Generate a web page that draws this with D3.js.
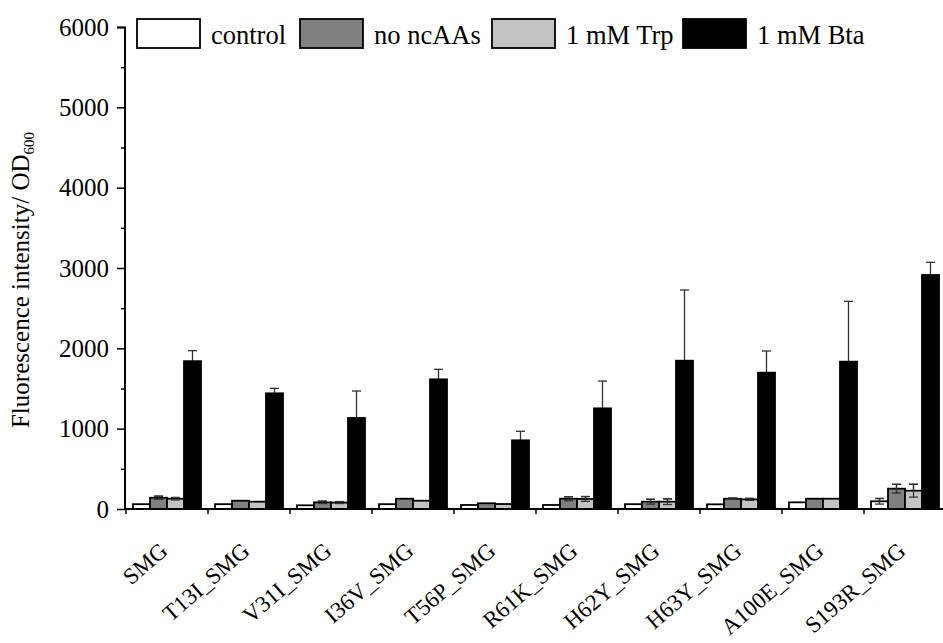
<!DOCTYPE html>
<html>
<head>
<meta charset="utf-8">
<script src="https://cdn.jsdelivr.net/npm/d3@7"></script>
<style>
  body { margin: 0; background: #fff; }
  svg { display: block; }
</style>
</head>
<body>
<div id="chart"></div>
<script>
// data
const categories = ["SMG", "T13I_SMG", "V31I_SMG", "I36V_SMG", "T56P_SMG", "R61K_SMG", "H62Y_SMG", "H63Y_SMG", "A100E_SMG", "S193R_SMG"];
const seriesNames = ["control", "no ncAAs", "1 mM Trp", "1 mM Bta"];
const control = [60, 60, 46, 60, 50, 50, 60, 58, 83, 96];
const controlErr = [0, 0, 0, 0, 0, 0, 0, 0, 0, 35];
const noNcaa = [140, 103, 83, 128, 71, 128, 91, 128, 128, 253];
const noNcaaErr = [20, 0, 15, 0, 0, 25, 30, 8, 0, 54];
const trp = [128, 91, 80, 103, 62, 125, 91, 120, 128, 228];
const trpErr = [15, 0, 12, 0, 0, 30, 35, 12, 0, 80];
const bta = [1840, 1440, 1133, 1614, 855, 1253, 1846, 1697, 1834, 2913];
const btaErr = [131, 62, 336, 125, 112, 340, 880, 270, 751, 158];
const yTicks = [0, 1000, 2000, 3000, 4000, 5000, 6000];

const colors = ["#ffffff", "#808080", "#c3c3c3", "#000000"];
const values = [control, noNcaa, trp, bta];
const errs = [controlErr, noNcaaErr, trpErr, btaErr];

const W = 943, H = 643;
const margin = {top: 27, right: -3, bottom: 134, left: 125};
const width = W - margin.left - margin.right,
      height = H - margin.top - margin.bottom;

const svg = d3.select("#chart").append("svg")
  .attr("width", W).attr("height", H);
const g = svg.append("g")
  .attr("transform", `translate(${margin.left},${margin.top})`);

const serif = "'Liberation Serif', 'DejaVu Serif', serif";

// scales
const x = d3.scaleBand().domain(categories).range([1, width]).padding(0);
const xs = d3.scaleBand().domain(seriesNames).range([7, 75]).padding(0);
const y = d3.scaleLinear().domain([0, 6000]).range([height, 0]);

// flatten into rows
const rows = [];
categories.forEach((c, i) => {
  seriesNames.forEach((s, k) => {
    rows.push({cat: c, s: s, k: k, v: values[k][i], e: errs[k][i]});
  });
});

const cx = d => x(d.cat) + xs(d.s) + xs.bandwidth() / 2;
const capW = 9;

// error bars (drawn first so bars cover the lower half)
const eb = g.append("g").selectAll("g").data(rows.filter(d => d.e > 0)).enter().append("g")
  .attr("stroke", "#333").attr("stroke-width", 1.3);
eb.append("line")
  .attr("x1", cx).attr("x2", cx)
  .attr("y1", d => y(d.v - d.e))
  .attr("y2", d => y(d.v + d.e));
eb.append("line")
  .attr("x1", d => cx(d) - capW / 2)
  .attr("x2", d => cx(d) + capW / 2)
  .attr("y1", d => y(d.v + d.e)).attr("y2", d => y(d.v + d.e));

// bars
g.append("g").selectAll("rect").data(rows).enter().append("rect")
  .attr("x", d => x(d.cat) + xs(d.s))
  .attr("y", d => y(d.v))
  .attr("width", xs.bandwidth())
  .attr("height", d => y(0) - y(d.v))
  .attr("fill", d => colors[d.k])
  .attr("stroke", "#000")
  .attr("stroke-width", 1.8);

// lower error bars on top of light bars
const ebLow = g.append("g").selectAll("g").data(rows.filter(d => d.e > 0 && d.k < 3)).enter().append("g")
  .attr("stroke", "#333").attr("stroke-width", 1.3);
ebLow.append("line")
  .attr("x1", cx).attr("x2", cx)
  .attr("y1", d => y(d.v - d.e)).attr("y2", d => y(d.v + d.e));
ebLow.append("line")
  .attr("x1", d => cx(d) - capW / 2)
  .attr("x2", d => cx(d) + capW / 2)
  .attr("y1", d => y(d.v - d.e)).attr("y2", d => y(d.v - d.e));
ebLow.append("line")
  .attr("x1", d => cx(d) - capW / 2)
  .attr("x2", d => cx(d) + capW / 2)
  .attr("y1", d => y(d.v + d.e)).attr("y2", d => y(d.v + d.e));

// y axis with minor ticks
const yAxis = g.append("g")
  .call(d3.axisLeft(y).tickValues(yTicks).tickSize(8).tickPadding(8).tickFormat(d3.format("d")));
g.append("g")
  .call(d3.axisLeft(y).tickValues(d3.range(500, 6000, 1000)).tickSize(4).tickFormat(""))
  .select(".domain").remove();
g.selectAll(".tick line").attr("stroke", "#000").attr("stroke-width", 1.5);
yAxis.select(".domain").attr("stroke-width", 2).attr("d", `M-8,0.5H0V${height}`);
yAxis.selectAll("text")
  .style("font-family", serif).style("font-size", "25px").attr("fill", "#000");

// x axis: ticks at band edges
const xAxis = g.append("g").attr("transform", `translate(0,${height})`);
xAxis.append("line")
  .attr("x1", 0).attr("x2", width).attr("y1", 0).attr("y2", 0)
  .attr("stroke", "#000").attr("stroke-width", 2);
xAxis.selectAll(".xt").data(categories).enter().append("line")
  .attr("x1", d => x(d)).attr("x2", d => x(d))
  .attr("y1", 0).attr("y2", 5)
  .attr("stroke", "#000").attr("stroke-width", 1.5);
xAxis.selectAll(".xl").data(categories).enter().append("text")
  .attr("transform", d => `translate(${x(d) + x.bandwidth() / 2 + 2},${44}) rotate(-41)`)
  .attr("text-anchor", "end")
  .style("font-family", serif).style("font-size", "23px")
  .text(d => d);

// y label
const yl = svg.append("text")
  .attr("transform", `translate(29,${margin.top + 253}) rotate(-90)`)
  .attr("text-anchor", "middle")
  .style("font-family", serif).style("font-size", "25px");
yl.append("tspan").text("Fluorescence intensity/ OD");
yl.append("tspan").attr("dy", 5).style("font-size", "15px").text("600");

// legend
const legX = [137, 300, 492, 683];
const leg = svg.append("g").selectAll("g").data(seriesNames).enter().append("g")
  .attr("transform", (d, i) => `translate(${legX[i]},19)`);
leg.append("rect")
  .attr("width", 63).attr("height", 29)
  .attr("fill", (d, i) => colors[i])
  .attr("stroke", "#000").attr("stroke-width", 1.8);
leg.append("text")
  .attr("x", 74).attr("y", 25)
  .style("font-family", serif).style("font-size", "26.5px")
  .text(d => d);
</script>
</body>
</html>
